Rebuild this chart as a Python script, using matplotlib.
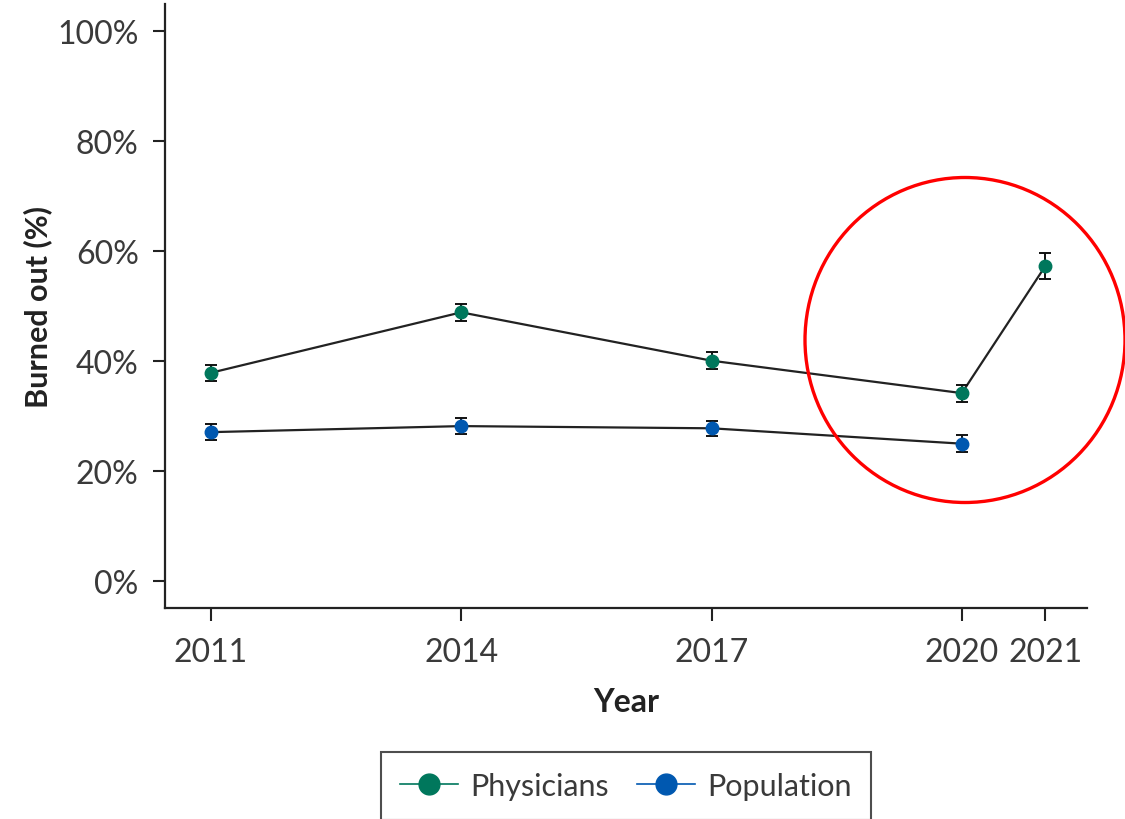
import matplotlib.pyplot as plt
from matplotlib.patches import Ellipse

# burnout rates by survey year
years = [2011, 2014, 2017, 2020, 2021]
physicians = [37.9, 48.9, 40.1, 34.2, 57.3]
physicians_err = [1.45, 1.5, 1.5, 1.55, 2.4]
pop_years = [2011, 2014, 2017, 2020]
population = [27.1, 28.2, 27.8, 25.0]
population_err = [1.4, 1.45, 1.4, 1.6]

yticks = [0, 20, 40, 60, 80, 100]

teal = "#00775c"
blue = "#0058b0"

plt.rcParams["font.family"] = ["Lato", "DejaVu Sans"]

fig = plt.figure(figsize=(11.25, 8.2), dpi=100)
ax = fig.add_axes([0.1467, 0.2573, 0.8195, 0.7366])

# connecting lines first, then points with error bars
ax.plot(years, physicians, color="#222222", lw=1.6, zorder=1)
ax.plot(pop_years, population, color="#222222", lw=1.6, zorder=1)
ax.errorbar(years, physicians, yerr=physicians_err, fmt="o", color=teal,
            ecolor="#111111", elinewidth=1.4, capsize=4, capthick=1.4,
            markersize=9, zorder=3)
ax.errorbar(pop_years, population, yerr=population_err, fmt="o", color=blue,
            ecolor="#111111", elinewidth=1.4, capsize=4, capthick=1.4,
            markersize=9, zorder=3)

ax.set_xlim(2010.45, 2021.5)
ax.set_ylim(-4.9, 105)
ax.set_xticks(years)
ax.set_xticklabels([str(y) for y in years])
ax.set_yticks(yticks)
ax.set_yticklabels([f"{v}%" for v in yticks])

for side in ["top", "right"]:
    ax.spines[side].set_visible(False)
for side in ["left", "bottom"]:
    ax.spines[side].set_linewidth(1.6)
    ax.spines[side].set_color("#222222")
ax.tick_params(axis="both", length=9, width=1.5, color="#222222",
               labelsize=23, labelcolor="#3a3a3a")
ax.tick_params(axis="x", pad=12)
ax.tick_params(axis="y", pad=10)

ax.set_xlabel("Year", fontsize=23, fontweight="bold", color="#222222", labelpad=14)
ax.set_ylabel("Burned out (%)", fontsize=22, fontweight="bold", color="#222222", labelpad=4)

# legend below the plot
h1, = ax.plot([], [], color=teal, marker="o", markersize=15, lw=1.2)
h2, = ax.plot([], [], color=blue, marker="o", markersize=15, lw=1.2)
leg = fig.legend([h1, h2], ["Physicians", "Population"], loc="upper center",
                 bbox_to_anchor=(626 / 1125, 1 - 753 / 820), ncol=2,
                 frameon=True, fancybox=False, fontsize=22, handlelength=1.9,
                 columnspacing=0.9, borderpad=0.65, handletextpad=0.4,
                 borderaxespad=0)
leg.get_frame().set_edgecolor("#222222")
leg.get_frame().set_linewidth(1.5)
for t in leg.get_texts():
    t.set_color("#3a3a3a")

# red highlight around the 2020-2021 jump
circle = Ellipse((965 / 1125, 1 - 341 / 820), width=320 / 1125, height=325 / 820,
                 transform=fig.transFigure, fill=False, edgecolor="#ff0000",
                 lw=2.4, zorder=10)
fig.patches.append(circle)

fig.savefig("out.png", dpi=100)
